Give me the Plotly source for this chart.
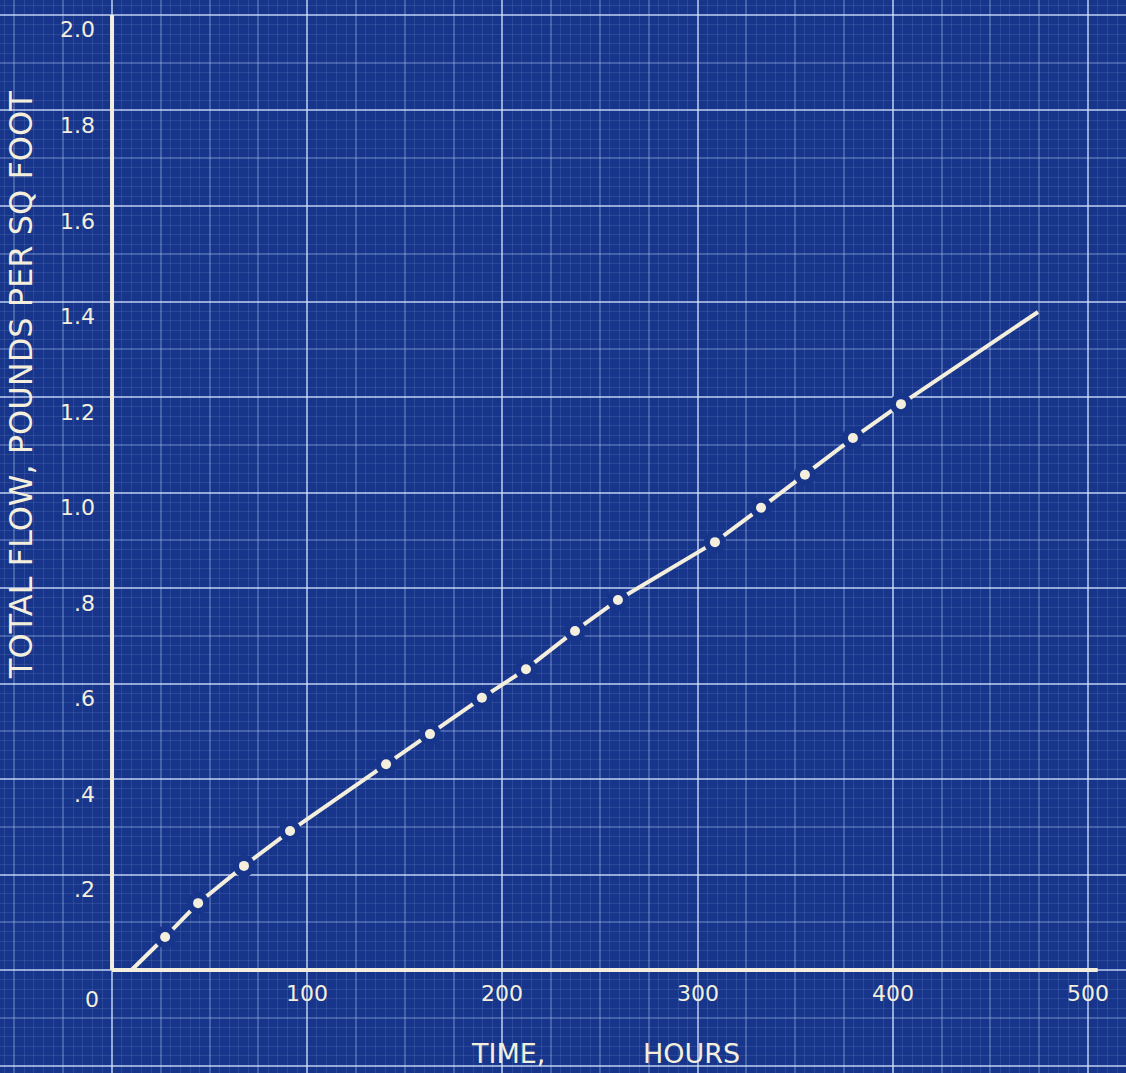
import plotly.graph_objects as go

# ---------------- data ----------------
obs_hours = [27.2, 44.1, 67.6, 91.2, 140.4, 162.9, 189.5, 212.1, 237.2, 259.2,
             308.9, 332.5, 355.0, 379.6, 404.2]
obs_flow = [0.069, 0.140, 0.218, 0.291, 0.431, 0.494, 0.570, 0.630, 0.710, 0.775,
            0.896, 0.968, 1.037, 1.114, 1.185]
curve_start_hours = [10.0]
curve_start_flow = [0.0]
curve_end_hours = [474.4]
curve_end_flow = [1.378]

x_tick_vals = [100, 200, 300, 400, 500]
x_tick_text = ["100", "200", "300", "400", "500"]
y_tick_vals = [2.0, 1.8, 1.6, 1.4, 1.2, 1.0, 0.8, 0.6, 0.4, 0.2]
y_tick_text = ["2.0", "1.8", "1.6", "1.4", "1.2", "1.0", ".8", ".6", ".4", ".2"]
origin_label = "0"
x_title_words = ["TIME,", "HOURS"]
x_title_word_pos = [202.9, 297.1]
y_title = "TOTAL FLOW, POUNDS PER SQ FOOT"
x_axis_max = 505
y_axis_max = 2.0

# ---------------- styling ----------------
W, H = 1126, 1073
BG = "#17358a"
INK = "#f3efdc"
FONT = "DejaVu Sans"
GRID_MAJOR = "rgba(215,230,255,0.55)"
GRID_MID = "rgba(190,212,255,0.28)"
GRID_FINE = "rgba(175,200,250,0.13)"

x_range = [-57.4, 519.5]
y_range = [-0.2157, 2.0314]

line_x = curve_start_hours + obs_hours + curve_end_hours
line_y = curve_start_flow + obs_flow + curve_end_flow

fig = go.Figure()
fig.add_trace(go.Scatter(x=line_x, y=line_y, mode="lines",
                         line=dict(color=INK, width=4), hoverinfo="skip"))
fig.add_trace(go.Scatter(x=obs_hours, y=obs_flow, mode="markers",
                         marker=dict(size=22, color=BG, line=dict(width=0)),
                         hoverinfo="skip"))
fig.add_trace(go.Scatter(x=obs_hours, y=obs_flow, mode="markers",
                         marker=dict(size=10, color=INK, line=dict(width=0))))
# dummy trace so the overlay grid axes are drawn
fig.add_trace(go.Scatter(x=[None], y=[None], xaxis="x2", yaxis="y2",
                         mode="markers", hoverinfo="skip"))

# axis lines
fig.add_shape(type="line", xref="x", yref="y", x0=0, y0=0, x1=x_axis_max, y1=0,
              line=dict(color=INK, width=4))
fig.add_shape(type="line", xref="x", yref="y", x0=0, y0=0, x1=0, y1=y_axis_max,
              line=dict(color=INK, width=4))

annotations = []
for v, t in zip(x_tick_vals, x_tick_text):
    annotations.append(dict(x=v, y=0, xref="x", yref="y", text=t, showarrow=False,
                            yshift=-23, font=dict(family=FONT, size=22, color=INK)))
annotations.append(dict(x=-10.2, y=0, xref="x", yref="y", text=origin_label,
                        showarrow=False, yshift=-29,
                        font=dict(family=FONT, size=22, color=INK)))
for v, t in zip(y_tick_vals, y_tick_text):
    annotations.append(dict(x=-7.7, y=v, xref="x", yref="y", text=t, showarrow=False,
                            xanchor="right", yshift=-15,
                            font=dict(family=FONT, size=22, color=INK)))
for w, p in zip(x_title_words, x_title_word_pos):
    annotations.append(dict(x=p, y=-0.174, xref="x", yref="y", text=w, showarrow=False,
                            font=dict(family=FONT, size=27, color=INK)))
annotations.append(dict(x=-46.6, y=1.225, xref="x", yref="y", text=y_title,
                        showarrow=False, textangle=-90,
                        font=dict(family=FONT, size=32, color=INK)))

fig.update_layout(
    width=W, height=H, autosize=False,
    margin=dict(l=0, r=0, t=0, b=0, pad=0),
    paper_bgcolor=BG, plot_bgcolor=BG,
    showlegend=False,
    annotations=annotations,
    xaxis=dict(range=x_range, tick0=0, dtick=25, showgrid=True, gridcolor=GRID_MID,
               gridwidth=1.5, zeroline=False, showticklabels=False, ticks="",
               showline=False,
               minor=dict(tick0=0, dtick=5, showgrid=True, gridcolor=GRID_FINE,
                          gridwidth=1)),
    yaxis=dict(range=y_range, tick0=0, dtick=0.1, showgrid=True, gridcolor=GRID_MID,
               gridwidth=1.5, zeroline=False, showticklabels=False, ticks="",
               showline=False,
               minor=dict(tick0=0, dtick=0.02, showgrid=True, gridcolor=GRID_FINE,
                          gridwidth=1)),
    xaxis2=dict(range=x_range, overlaying="x", anchor="y2", tick0=0, dtick=100,
                showgrid=True, gridcolor=GRID_MAJOR, gridwidth=2.2, zeroline=False,
                showticklabels=False, ticks="", showline=False),
    yaxis2=dict(range=y_range, overlaying="y", anchor="x2", tick0=0, dtick=0.2,
                showgrid=True, gridcolor=GRID_MAJOR, gridwidth=2.2, zeroline=False,
                showticklabels=False, ticks="", showline=False),
)

fig.write_html(
    "out.html",
    config={"displayModeBar": False},
    post_script="document.body.style.margin='0';"
                "document.body.style.background='" + BG + "';",
)
